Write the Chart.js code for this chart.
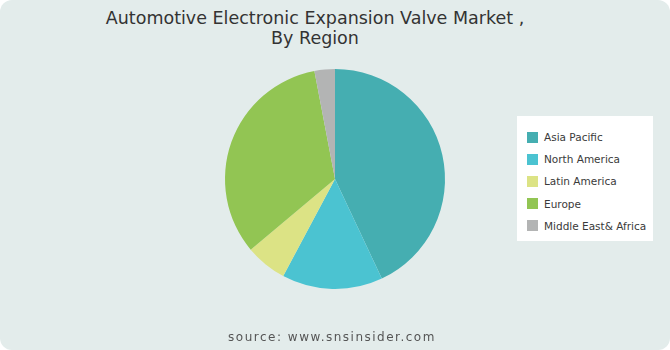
<!DOCTYPE html>
<html>
<head>
<meta charset="utf-8">
<script src="https://cdn.jsdelivr.net/npm/chart.js@4"></script>
<style>
  html, body { margin: 0; padding: 0; background: #ffffff; }
  #frame {
    position: relative;
    width: 670px;
    height: 350px;
    background: #e3eceb;
    border-radius: 12px;
    overflow: hidden;
    font-family: 'DejaVu Sans', sans-serif;
  }
  #title {
    position: absolute;
    left: 0;
    width: 630px;
    top: 8px;
    text-align: center;
    font-size: 17.5px;
    line-height: 20px;
    color: #333;
  }
  #chart { position: absolute; left: 0; top: 0; }
  #legend {
    position: absolute;
    left: 517px;
    top: 116px;
    width: 136px;
    height: 125px;
    background: #ffffff;
    box-sizing: border-box;
    padding-top: 10px;
    padding-left: 10px;
  }
  .item {
    display: flex;
    align-items: center;
    height: 22.2px;
    font-size: 10.5px;
    color: #3a3a3a;
  }
  .swatch { width: 11px; height: 11px; margin-right: 6px; }
  #source {
    position: absolute;
    left: 0;
    width: 664px;
    top: 330px;
    text-align: center;
    font-size: 12px;
    letter-spacing: 1.5px;
    color: #555;
  }
</style>
</head>
<body>
<div id="frame">
  <div id="title">Automotive Electronic Expansion Valve Market ,<br>By Region</div>
  <canvas id="chart" width="670" height="350"></canvas>
  <div id="legend"></div>
  <div id="source">source: www.snsinsider.com</div>
</div>
<script>
const regions = ['Asia Pacific', 'North America', 'Latin America', 'Europe', 'Middle East& Africa'];
const shares = [43.0, 14.8, 6.1, 33.1, 3.0];
const colors = ['#45aeb1', '#4bc3d1', '#dce385', '#92c553', '#b3b4b4'];

function renderLegend() {
  const box = document.getElementById('legend');
  regions.forEach((r, i) => {
    const row = document.createElement('div');
    row.className = 'item';
    row.innerHTML = `<span class="swatch" style="background:${colors[i]}"></span>${r}`;
    box.appendChild(row);
  });
}

new Chart(document.getElementById('chart'), {
  type: 'pie',
  data: {
    labels: regions,
    datasets: [{
      data: shares,
      backgroundColor: colors,
      borderWidth: 0,
      hoverOffset: 0,
    }],
  },
  options: {
    responsive: false,
    animation: false,
    layout: { padding: { left: 225, right: 225, top: 69, bottom: 61 } },
    plugins: {
      legend: { display: false },
      tooltip: { enabled: false },
    },
  },
});

renderLegend();
</script>
</body>
</html>
